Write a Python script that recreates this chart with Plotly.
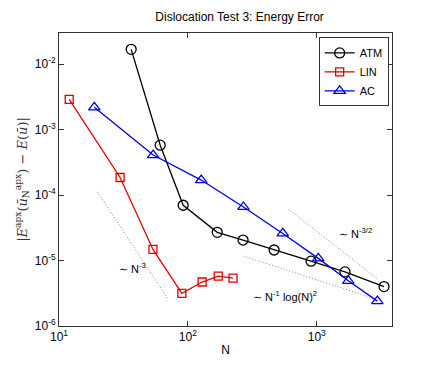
import plotly.graph_objects as go

# ATM series
atm_n = [36.3, 61, 92, 169, 268, 467, 903, 1656, 3327]
atm_err = [1.69e-2, 5.8e-4, 7.0e-5, 2.7e-5, 2.06e-5, 1.45e-5, 9.8e-6, 6.7e-6, 4.0e-6]

# LIN series
lin_n = [12.0, 29.8, 53.6, 89.8, 129, 172, 224]
lin_err = [2.9e-3, 1.86e-4, 1.48e-5, 3.15e-6, 4.7e-6, 5.8e-6, 5.4e-6]

# AC series
ac_n = [18.8, 53.8, 127, 270, 545, 1028, 1758, 2953]
ac_err = [2.2e-3, 4.1e-4, 1.7e-4, 6.6e-5, 2.6e-5, 1.08e-5, 4.9e-6, 2.4e-6]

# reference slope guides (end points)
ref3_n = [19.9, 69.5]
ref3_err = [1.12e-4, 2.65e-6]
ref32_n = [603, 2918]
ref32_err = [6.1e-5, 5.35e-6]
reflog_n = [270, 2918]
reflog_err = [1.17e-5, 2.56e-6]

x_ticks = [10, 100, 1000]
x_ticktext = ["10<sup>1</sup>", "10<sup>2</sup>", "10<sup>3</sup>"]
y_ticks = [1e-6, 1e-5, 1e-4, 1e-3, 1e-2]
y_ticktext = ["10<sup>-6</sup>", "10<sup>-5</sup>", "10<sup>-4</sup>",
              "10<sup>-3</sup>", "10<sup>-2</sup>"]

FONT = "Liberation Sans, Arial, sans-serif"

fig = go.Figure()

for xs, ys in [(ref3_n, ref3_err), (ref32_n, ref32_err), (reflog_n, reflog_err)]:
    fig.add_trace(go.Scatter(x=xs, y=ys, mode="lines", showlegend=False,
                             line=dict(color="#8a8a8a", width=1, dash="1px,2px")))

fig.add_trace(go.Scatter(
    x=atm_n, y=atm_err, name="ATM", mode="lines+markers",
    line=dict(color="black", width=1.3),
    marker=dict(symbol="circle-open", size=10, color="black", line=dict(width=1.3))))
fig.add_trace(go.Scatter(
    x=lin_n, y=lin_err, name="LIN", mode="lines+markers",
    line=dict(color="#e00000", width=1.3),
    marker=dict(symbol="square-open", size=8, color="#e00000", line=dict(width=1.3))))
fig.add_trace(go.Scatter(
    x=ac_n, y=ac_err, name="AC", mode="lines+markers",
    line=dict(color="#0000e0", width=1.3),
    marker=dict(symbol="triangle-up-open", size=10, color="#0000e0", line=dict(width=1.3))))

axis_style = dict(type="log", showgrid=False, zeroline=False, showline=True,
                  linecolor="#333", linewidth=1, mirror="ticks", ticks="inside",
                  ticklen=5, tickcolor="#333", automargin=False,
                  tickfont=dict(family=FONT, size=12, color="black"))

fig.update_xaxes(range=[1, 3.584], tickvals=x_ticks, ticktext=x_ticktext,
                 title=dict(text="N", font=dict(family=FONT, size=12, color="black"),
                            standoff=2),
                 **axis_style)
fig.update_yaxes(range=[-6, -1.522], tickvals=y_ticks, ticktext=y_ticktext,
                 title=dict(text="|<i>E</i><sup>apx</sup>(<i>ū</i><sub>N</sub><sup>apx</sup>) − <i>E</i>(<i>ū</i>)|",
                            font=dict(family="DejaVu Serif, serif", size=13, color="#333"),
                            standoff=4),
                 **axis_style)

annot_font = dict(family=FONT, size=11, color="black")
fig.add_annotation(x=1.568, y=-5.115, xref="x", yref="y", showarrow=False,
                   text="∼ N<sup>-3</sup>", font=annot_font)
fig.add_annotation(x=3.297, y=-4.58, xref="x", yref="y", showarrow=False,
                   text="∼ N<sup>-3/2</sup>", font=annot_font)
fig.add_annotation(x=2.754, y=-5.542, xref="x", yref="y", showarrow=False,
                   text="∼ N<sup>-1</sup> log(N)<sup>2</sup>", font=annot_font)

fig.update_layout(
    width=424, height=370,
    margin=dict(l=59, r=32, t=33, b=44),
    paper_bgcolor="white", plot_bgcolor="white",
    title=dict(text="Dislocation Test 3: Energy Error", x=0.565, y=0.965,
               xanchor="center", font=dict(family=FONT, size=12, color="black")),
    legend=dict(x=0.99, y=0.985, xanchor="right", yanchor="top",
                bgcolor="white", bordercolor="#333", borderwidth=1,
                font=dict(family=FONT, size=11, color="black"),
                tracegroupgap=0, itemwidth=30),
)

# drop the default page margin so the figure sits at the window's corner
fig.write_html("out.html", config={"displayModeBar": False},
               post_script="document.body.style.margin='0px';")
